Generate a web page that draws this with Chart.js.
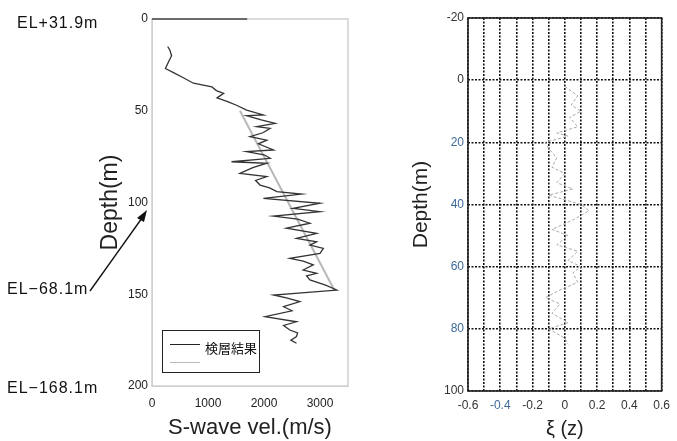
<!DOCTYPE html>
<html>
<head>
<meta charset="utf-8">
<script src="https://cdn.jsdelivr.net/npm/chart.js@4.4.0/dist/chart.umd.min.js"></script>
<style>
body { margin: 0; background: #fff; font-family: "Liberation Sans", Arial, sans-serif; }
#wrap { position: relative; width: 677px; height: 441px; overflow: hidden; }
#left { position: absolute; left: 0; top: 0; }
#right { position: absolute; left: 350px; top: 0; }
.el { position: absolute; font-size: 16px; line-height: 16px; letter-spacing: 1px; color: #111; white-space: nowrap; }
#legend { position: absolute; left: 162px; top: 330px; width: 96px; height: 41px; border: 1.5px solid #222; }
.lg-line { position: absolute; left: 7px; width: 30px; }
.lg-text { position: absolute; left: 42px; top: 9px; font-family: "Noto Sans CJK JP", sans-serif; font-size: 13px; line-height: 16px; color: #111; white-space: nowrap; }
#arrow { position: absolute; left: 0; top: 0; }
</style>
</head>
<body>
<div id="wrap">
  <canvas id="left" width="350" height="441"></canvas>
  <canvas id="right" width="327" height="441"></canvas>
  <div class="el" style="left:17px; top:15px;">EL+31.9m</div>
  <div class="el" style="left:7px; top:281px;">EL−68.1m</div>
  <div class="el" style="left:7px; top:380px;">EL−168.1m</div>
  <svg id="arrow" width="677" height="441">
    <line x1="90" y1="291" x2="142" y2="218" stroke="#111" stroke-width="1.4"/>
    <polygon points="147,210 137,218 144,222" fill="#111"/>
  </svg>
  <div id="legend">
    <div class="lg-line" style="top:13px; border-top:1.5px solid #222;"></div>
    <div class="lg-text">検層結果</div>
    <div class="lg-line" style="top:31px; border-top:1.5px solid #bbb;"></div>
  </div>
</div>
<script>
// S-wave logging result: depth (m) and velocity (m/s)
const logDepth = [15, 17, 20, 23, 27, 29.6, 32, 35, 37, 39, 40.5, 43, 45, 47, 49.6, 52.3, 52.7, 55, 56.9, 58.7,
  59.6, 62, 64.1, 66, 68, 71.4, 72.3, 74, 75.9, 77.8, 78.6, 81, 84.1, 85.9, 88, 90.5, 92, 94.1, 95.4, 97.7,
  100.4, 103.2, 105, 107.4, 109, 111.3, 114, 116.8, 119.5, 121.4, 123.2, 125, 127.7, 130.4, 132, 134, 136.8,
  138.6, 140, 142.2, 145, 147.7, 150.4, 152, 154, 156.8, 159, 162.2, 165, 167, 169.5, 171, 173.1, 175, 176.7];
const logVel = [280, 320, 350, 300, 240, 410, 560, 740, 1070, 1150, 1280, 1160, 1350, 1510, 1690, 1990, 1690, 1950, 2200, 1870,
  2110, 1980, 1750, 2050, 1900, 2170, 1690, 2000, 2110, 1420, 2050, 1800, 1570, 2050, 1850, 1930, 2100, 2230, 2670, 1990,
  3000, 2520, 3000, 2170, 2600, 2820, 2400, 2940, 2580, 2940, 2820, 3060, 3000, 2460, 2700, 2880, 2700,
  2940, 2760, 2820, 3100, 3300, 2170, 2400, 2640, 2350, 2500, 2020, 2580, 2350, 2460, 2600, 2580, 2480, 2580];

// grey trend line
const trendDepth = [50, 148];
const trendVel = [1570, 3260];

// xi(z) profile
const xiDepth = [2, 5, 8, 10, 12, 15, 17, 18, 20, 22, 25, 28, 30, 33, 35, 37, 40, 42, 45, 48, 50, 53, 55, 58,
  60, 62, 65, 68, 70, 72, 75, 78, 80, 83, 85];
const xiVal = [0.0, 0.08, 0.04, 0.1, 0.03, 0.08, -0.05, 0.02, -0.12, -0.1, -0.05, -0.08, 0.0, -0.05, 0.05, -0.1, 0.1, 0.15, 0.05, -0.08,
  0.02, -0.05, 0.08, 0.02, 0.1, 0.05, 0.08, -0.05, -0.12, -0.03, -0.08, 0.02, -0.1, 0.0, 0.02];

// tick labels
const velTicks = [0, 1000, 2000, 3000];

const blueTick = '#3e6a99';
const darkTick = '#333';

Chart.defaults.font.family = "'Liberation Sans', Arial, sans-serif";

const toPoints = (xs, ys) => xs.map((x, i) => ({ x: x, y: ys[i] }));

// draws the box round the plot area
const framePlugin = {
  id: 'frame',
  afterDraw(chart, args, opts) {
    const { ctx, chartArea: a } = chart;
    ctx.save();
    ctx.strokeStyle = opts.color;
    ctx.lineWidth = opts.width;
    ctx.strokeRect(a.left, a.top, a.width, a.height);
    if (opts.topDarkTo != null) {
      const xEnd = chart.scales.x.getPixelForValue(opts.topDarkTo);
      ctx.strokeStyle = '#444';
      ctx.beginPath();
      ctx.moveTo(a.left, a.top);
      ctx.lineTo(xEnd, a.top);
      ctx.stroke();
    }
    ctx.restore();
  }
};

const noGrid = { display: true, drawOnChartArea: false, drawTicks: false };

new Chart(document.getElementById('left'), {
  type: 'scatter',
  data: {
    datasets: [
      { label: '検層結果', data: toPoints(logVel, logDepth), showLine: true, borderColor: '#333', borderWidth: 1.3, pointRadius: 0 },
      { label: '', data: toPoints(trendVel, trendDepth), showLine: true, borderColor: '#b8b8b8', borderWidth: 2, pointRadius: 0 }
    ]
  },
  options: {
    responsive: false,
    animation: false,
    layout: { padding: { left: 90, top: 19, right: 2, bottom: 0 } },
    plugins: { legend: { display: false }, tooltip: { enabled: false }, frame: { color: '#d0d0d0', width: 1.5, topDarkTo: 1700 } },
    scales: {
      x: {
        type: 'linear', min: 0, max: 3500,
        afterFit(s) { s.height = 55; },
        afterBuildTicks(s) { s.ticks = velTicks.map((v) => ({ value: v })); },
        ticks: { padding: 10, color: '#222', font: { size: 12 }, maxRotation: 0, autoSkip: false,
          callback: (v) => String(v) },
        grid: noGrid,
        border: { color: '#d0d0d0' },
        title: { display: true, text: 'S-wave vel.(m/s)', font: { size: 22 }, color: '#222', padding: 0 }
      },
      y: {
        reverse: true, min: 0, max: 200,
        afterFit(s) { s.width = 62; },
        ticks: { stepSize: 50, padding: 4, color: '#222', font: { size: 12 } },
        grid: noGrid,
        border: { color: '#d0d0d0' },
        title: { display: true, text: 'Depth(m)', font: { size: 23 }, color: '#222', padding: { top: 7, bottom: 0 } }
      }
    }
  },
  plugins: [framePlugin]
});

new Chart(document.getElementById('right'), {
  type: 'scatter',
  data: {
    datasets: [
      { label: 'xi', data: toPoints(xiVal, xiDepth), showLine: true, borderColor: '#aaa', borderWidth: 1, borderDash: [3, 2], pointRadius: 0 }
    ]
  },
  options: {
    responsive: false,
    animation: false,
    layout: { padding: { left: 55, top: 18, right: 9, bottom: 0 } },
    plugins: { legend: { display: false }, tooltip: { enabled: false }, frame: { color: '#222', width: 1.6 } },
    scales: {
      x: {
        type: 'linear', min: -0.6, max: 0.6,
        afterFit(s) { s.height = 50; },
        ticks: {
          stepSize: 0.1, autoSkip: false, maxRotation: 0, padding: 7, font: { size: 12 },
          color: (c) => Math.round(c.tick.value * 10) === -4 ? blueTick : darkTick,
          callback: (v) => {
            const k = Math.round(v * 10);
            if (k % 2 !== 0) return '';
            return k === 0 ? '0' : (k / 10).toFixed(1);
          }
        },
        grid: { color: '#111', lineWidth: 1.6, drawTicks: false },
        border: { display: false, dash: [2, 1.5] },
        title: { display: true, text: 'ξ (z)', font: { size: 20 }, color: '#222', padding: 0 }
      },
      y: {
        reverse: true, min: -20, max: 100,
        afterFit(s) { s.width = 63; },
        ticks: {
          stepSize: 20, padding: 4, font: { size: 12 },
          color: (c) => (c.tick.value > 0 && c.tick.value < 100) ? blueTick : darkTick
        },
        grid: { color: '#111', lineWidth: 1.6, drawTicks: false },
        border: { display: false, dash: [2, 1.5] },
        title: { display: true, text: 'Depth(m)', font: { size: 21 }, color: '#222', padding: { top: 4, bottom: 0 } }
      }
    }
  },
  plugins: [framePlugin]
});
</script>
</body>
</html>
